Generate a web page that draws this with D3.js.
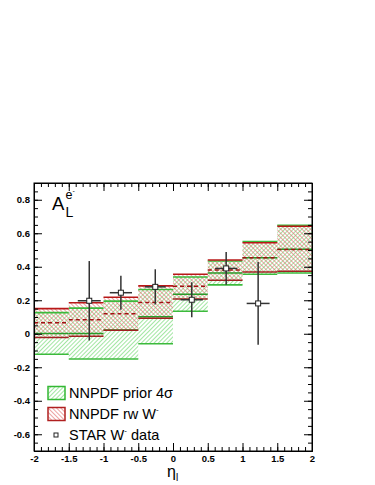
<!DOCTYPE html>
<html>
<head>
<meta charset="utf-8">
<script src="https://cdn.jsdelivr.net/npm/d3@7"></script>
<style>
	body { margin: 0; background: #fff; }
	svg { display: block; font-family: "Liberation Sans", Arial, sans-serif; }
	.axis path { stroke: #000; }
	.axis line { stroke: #000; }
	.axis text { font-size: 9.5px; font-weight: bold; fill: #000; font-family: "Liberation Sans", Arial, sans-serif; }
</style>
</head>
<body>
<div id="chart"></div>
<script>
// bins in eta
var binEdges = [-2, -1.5, -1, -0.5, 0, 0.5, 1, 1.5, 2];

// NNPDF prior 4 sigma band
var priorHi  = [0.126, 0.153, 0.195, 0.264, 0.339, 0.434, 0.551, 0.648],
	priorMid = [0.002, 0.001, 0.022, 0.102, 0.236, 0.363, 0.453, 0.505],
	priorLo  = [-0.122, -0.151, -0.151, -0.060, 0.134, 0.292, 0.355, 0.363];

// NNPDF reweighted with W- data
var rwHi  = [0.150, 0.185, 0.218, 0.286, 0.355, 0.440, 0.543, 0.642],
	rwMid = [0.066, 0.084, 0.120, 0.187, 0.284, 0.381, 0.454, 0.503],
	rwLo  = [-0.023, -0.015, 0.021, 0.092, 0.207, 0.319, 0.369, 0.373];

// STAR W- data
var starEta  = [-1.205, -0.75, -0.255, 0.27, 0.765, 1.225],
	starVal  = [0.197, 0.245, 0.280, 0.203, 0.390, 0.181],
	starErr  = [0.237, 0.101, 0.105, 0.105, 0.098, 0.247],
	starXErr = [0.165, 0.16, 0.15, 0.16, 0.16, 0.165];

var xTicks = [-2, -1.5, -1, -0.5, 0, 0.5, 1, 1.5, 2],
	xTickLabels = ["-2", "-1.5", "-1", "-0.5", "0", "0.5", "1", "1.5", "2"],
	yTicks = [-0.6, -0.4, -0.2, 0, 0.2, 0.4, 0.6, 0.8],
	yTickLabels = ["-0.6", "-0.4", "-0.2", "0", "0.2", "0.4", "0.6", "0.8"];

var width = 375, height = 485;
var frame = {left: 34, right: 312, top: 183, bottom: 451};

var svg = d3.select("#chart").append("svg")
	.attr("width", width)
	.attr("height", height);

var x = d3.scaleLinear().domain([-2, 2]).range([frame.left, frame.right]);
var y = d3.scaleLinear().domain([-0.7, 0.9]).range([frame.bottom, frame.top]);

// hatch patterns
var defs = svg.append("defs");
function hatch(id, color, angle){
	var p = defs.append("pattern")
		.attr("id", id)
		.attr("patternUnits", "userSpaceOnUse")
		.attr("width", 3)
		.attr("height", 3)
		.attr("patternTransform", "rotate(" + angle + ")");
	p.append("line")
		.attr("x1", 0).attr("y1", 0)
		.attr("x2", 0).attr("y2", 3)
		.attr("stroke", color)
		.attr("stroke-width", 1.3);
}
hatch("hatchGreen", "#6fd86f", 45);
hatch("hatchRed", "#e47070", -45);

var bins = d3.range(binEdges.length - 1).map(function(i){
	return {
		x0: binEdges[i], x1: binEdges[i+1],
		pHi: priorHi[i], pMid: priorMid[i], pLo: priorLo[i],
		rHi: rwHi[i], rMid: rwMid[i], rLo: rwLo[i]
	};
});

var plot = svg.append("g").attr("class", "plot");

plot.selectAll(".priorBand").data(bins).enter()
	.append("rect")
	.attr("class", "priorBand")
	.attr("x", function(d){ return x(d.x0); })
	.attr("width", function(d){ return x(d.x1) - x(d.x0); })
	.attr("y", function(d){ return y(d.pHi); })
	.attr("height", function(d){ return y(d.pLo) - y(d.pHi); })
	.attr("fill", "url(#hatchGreen)");

plot.selectAll(".rwBand").data(bins).enter()
	.append("rect")
	.attr("class", "rwBand")
	.attr("x", function(d){ return x(d.x0); })
	.attr("width", function(d){ return x(d.x1) - x(d.x0); })
	.attr("y", function(d){ return y(d.rHi); })
	.attr("height", function(d){ return y(d.rLo) - y(d.rHi); })
	.attr("fill", "url(#hatchRed)");

function binLines(cls, key, color, w, dash){
	plot.selectAll("." + cls).data(bins).enter()
		.append("line")
		.attr("class", cls)
		.attr("x1", function(d){ return x(d.x0); })
		.attr("x2", function(d){ return x(d.x1); })
		.attr("y1", function(d){ return y(d[key]); })
		.attr("y2", function(d){ return y(d[key]); })
		.attr("stroke", color)
		.attr("stroke-width", w)
		.attr("stroke-dasharray", dash || null);
}
binLines("pHiLine", "pHi", "#3cba3c", 1.6);
binLines("pLoLine", "pLo", "#3cba3c", 1.6);
binLines("pMidLine", "pMid", "#2a9a2a", 1.5);
binLines("rHiLine", "rHi", "#b81818", 1.6);
binLines("rLoLine", "rLo", "#a02020", 1.5);
binLines("rMidLine", "rMid", "#a01010", 1.5, "4,3");

// data points
var pts = starEta.map(function(e, i){
	return {eta: e, val: starVal[i], err: starErr[i], xerr: starXErr[i]};
});

var points = plot.selectAll(".star").data(pts).enter()
	.append("g")
	.attr("class", "star");

points.append("line")
	.attr("x1", function(d){ return x(d.eta); })
	.attr("x2", function(d){ return x(d.eta); })
	.attr("y1", function(d){ return y(d.val + d.err); })
	.attr("y2", function(d){ return y(d.val - d.err); })
	.attr("stroke", "#333")
	.attr("stroke-width", 1.5);

points.append("line")
	.attr("x1", function(d){ return x(d.eta - d.xerr); })
	.attr("x2", function(d){ return x(d.eta + d.xerr); })
	.attr("y1", function(d){ return y(d.val); })
	.attr("y2", function(d){ return y(d.val); })
	.attr("stroke", "#333")
	.attr("stroke-width", 1.5);

points.append("rect")
	.attr("x", function(d){ return x(d.eta) - 2.5; })
	.attr("y", function(d){ return y(d.val) - 2.5; })
	.attr("width", 5)
	.attr("height", 5)
	.attr("fill", "#fff")
	.attr("stroke", "#222")
	.attr("stroke-width", 1);

// axes
var xMinor = d3.range(-20, 21).map(function(v){ return v / 10; });
var yMinor = d3.range(-14, 19).map(function(v){ return v / 20; });

svg.append("g").attr("class", "axis")
	.attr("transform", "translate(0," + frame.bottom + ")")
	.call(d3.axisBottom(x).tickValues(xTicks)
		.tickFormat(function(d, i){ return xTickLabels[i]; })
		.tickSizeInner(-8).tickSizeOuter(0).tickPadding(4));
svg.append("g").attr("class", "axis")
	.attr("transform", "translate(0," + frame.bottom + ")")
	.call(d3.axisBottom(x).tickValues(xMinor).tickFormat("")
		.tickSizeInner(-4).tickSizeOuter(0));
svg.append("g").attr("class", "axis")
	.attr("transform", "translate(0," + frame.top + ")")
	.call(d3.axisTop(x).tickValues(xTicks).tickFormat("")
		.tickSizeInner(-8).tickSizeOuter(0));
svg.append("g").attr("class", "axis")
	.attr("transform", "translate(0," + frame.top + ")")
	.call(d3.axisTop(x).tickValues(xMinor).tickFormat("")
		.tickSizeInner(-4).tickSizeOuter(0));

svg.append("g").attr("class", "axis")
	.attr("transform", "translate(" + frame.left + ",0)")
	.call(d3.axisLeft(y).tickValues(yTicks)
		.tickFormat(function(d, i){ return yTickLabels[i]; })
		.tickSizeInner(-8).tickSizeOuter(0).tickPadding(4));
svg.append("g").attr("class", "axis")
	.attr("transform", "translate(" + frame.left + ",0)")
	.call(d3.axisLeft(y).tickValues(yMinor).tickFormat("")
		.tickSizeInner(-4).tickSizeOuter(0));
svg.append("g").attr("class", "axis")
	.attr("transform", "translate(" + frame.right + ",0)")
	.call(d3.axisRight(y).tickValues(yTicks).tickFormat("")
		.tickSizeInner(-8).tickSizeOuter(0));
svg.append("g").attr("class", "axis")
	.attr("transform", "translate(" + frame.right + ",0)")
	.call(d3.axisRight(y).tickValues(yMinor).tickFormat("")
		.tickSizeInner(-4).tickSizeOuter(0));

svg.append("rect")
	.attr("x", frame.left)
	.attr("y", frame.top)
	.attr("width", frame.right - frame.left)
	.attr("height", frame.bottom - frame.top)
	.attr("fill", "none")
	.attr("stroke", "#000")
	.attr("stroke-width", 1);

// x axis title: eta_l
var xt = svg.append("text")
	.attr("x", 167)
	.attr("y", 477)
	.attr("font-size", "16px")
	.attr("fill", "#000");
xt.append("tspan").text("η");
xt.append("tspan").attr("dy", 4).attr("font-size", "10px").text("l");

// A_L^{e-} label
svg.append("text")
	.attr("x", 52)
	.attr("y", 210)
	.attr("font-size", "18.5px")
	.text("A");
svg.append("text")
	.attr("x", 65.5)
	.attr("y", 216.5)
	.attr("font-size", "14px")
	.text("L");
svg.append("text")
	.attr("x", 65.5)
	.attr("y", 199)
	.attr("font-size", "12.5px")
	.text("e");
svg.append("text")
	.attr("x", 72.5)
	.attr("y", 193)
	.attr("font-size", "7px")
	.text("-");

// legend
var legend = svg.append("g").attr("class", "legend");
var legendItems = [
	{label: "NNPDF prior 4σ", sup: null, tail: null, fill: "url(#hatchGreen)", stroke: "#33b833"},
	{label: "NNPDF rw W", sup: "-", tail: null, fill: "url(#hatchRed)", stroke: "#b02020"},
	{label: "STAR W", sup: "-", tail: " data", fill: null, stroke: null}
];

legendItems.forEach(function(item, i){
	var cy = 393 + i * 21;
	if(item.fill){
		legend.append("rect")
			.attr("x", 48)
			.attr("y", cy - 6.5)
			.attr("width", 17)
			.attr("height", 13)
			.attr("fill", item.fill)
			.attr("stroke", item.stroke)
			.attr("stroke-width", 1.5);
	} else {
		legend.append("rect")
			.attr("x", 54)
			.attr("y", cy - 2)
			.attr("width", 4)
			.attr("height", 4)
			.attr("fill", "#fff")
			.attr("stroke", "#222")
			.attr("stroke-width", 1);
	}
	var t = legend.append("text")
		.attr("x", 69)
		.attr("y", cy + 5)
		.attr("font-size", "14.5px")
		.attr("fill", "#000");
	t.append("tspan").text(item.label);
	if(item.sup){
		t.append("tspan").attr("dy", -7).attr("font-size", "8px").text(item.sup);
		if(item.tail){
			t.append("tspan").attr("dy", 7).attr("font-size", "14.5px").text(item.tail);
		}
	}
});
</script>
</body>
</html>
